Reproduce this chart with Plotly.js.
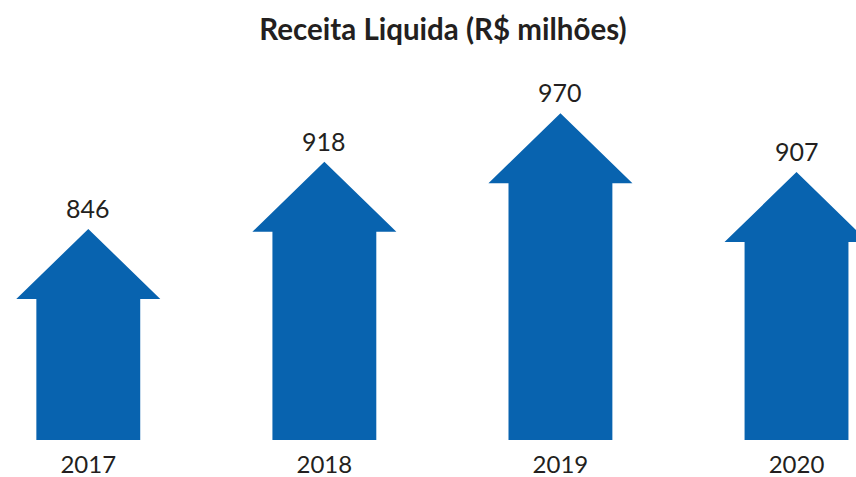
<!DOCTYPE html>
<html>
<head>
<meta charset="utf-8">
<script src="https://cdn.plot.ly/plotly-3.0.1.min.js"></script>
<style>html,body{margin:0;padding:0;background:#fff;}#chart{width:856px;height:477px;}</style>
</head>
<body>
<div id="chart"></div>
<script>
const years = ['2017', '2018', '2019', '2020'];
const values = [846, 918, 970, 907];

const yMin = 620, yMax = 1027;
const bodyHalf = 0.22, headHalf = 0.305, headH = 75;
const blue = '#0863AF';
const textColor = '#231f20';

const traces = [];
values.forEach((v, i) => {
  traces.push({
    type: 'scatter', mode: 'lines', fill: 'toself', fillcolor: blue,
    line: {width: 0, color: blue}, hoverinfo: 'skip', showlegend: false,
    x: [i - bodyHalf, i - bodyHalf, i - headHalf, i, i + headHalf, i + bodyHalf, i + bodyHalf, i - bodyHalf],
    y: [yMin, v - headH, v - headH, v, v - headH, v - headH, yMin, yMin]
  });
});

const annotations = values.map((v, i) => ({
  x: i, y: v, xref: 'x', yref: 'y', text: String(v), showarrow: false,
  yanchor: 'bottom', yshift: 4,
  font: {family: 'Lato, sans-serif', size: 25, color: textColor}
}));

const layout = {
  width: 856, height: 477,
  margin: {l: 0, r: 0, t: 60, b: 37},
  paper_bgcolor: '#fff', plot_bgcolor: '#fff',
  title: {text: '<b>Receita Liquida (R$ milhões)</b>', x: 0.5175, xanchor: 'center', y: 0.937, yanchor: 'middle',
    font: {family: 'Lato, sans-serif', size: 29.5, color: textColor}},
  xaxis: {range: [-0.374, 3.252], showgrid: false, zeroline: false, showline: false, ticks: '',
    tickvals: [0, 1, 2, 3], ticktext: years, ticklabelstandoff: 8,
    tickfont: {family: 'Lato, sans-serif', size: 24, color: textColor}, fixedrange: true},
  yaxis: {range: [yMin, yMax], visible: false, showgrid: false, zeroline: false, fixedrange: true},
  annotations: annotations,
  showlegend: false
};

Plotly.newPlot('chart', traces, layout, {displayModeBar: false, staticPlot: true});
</script>
</body>
</html>
